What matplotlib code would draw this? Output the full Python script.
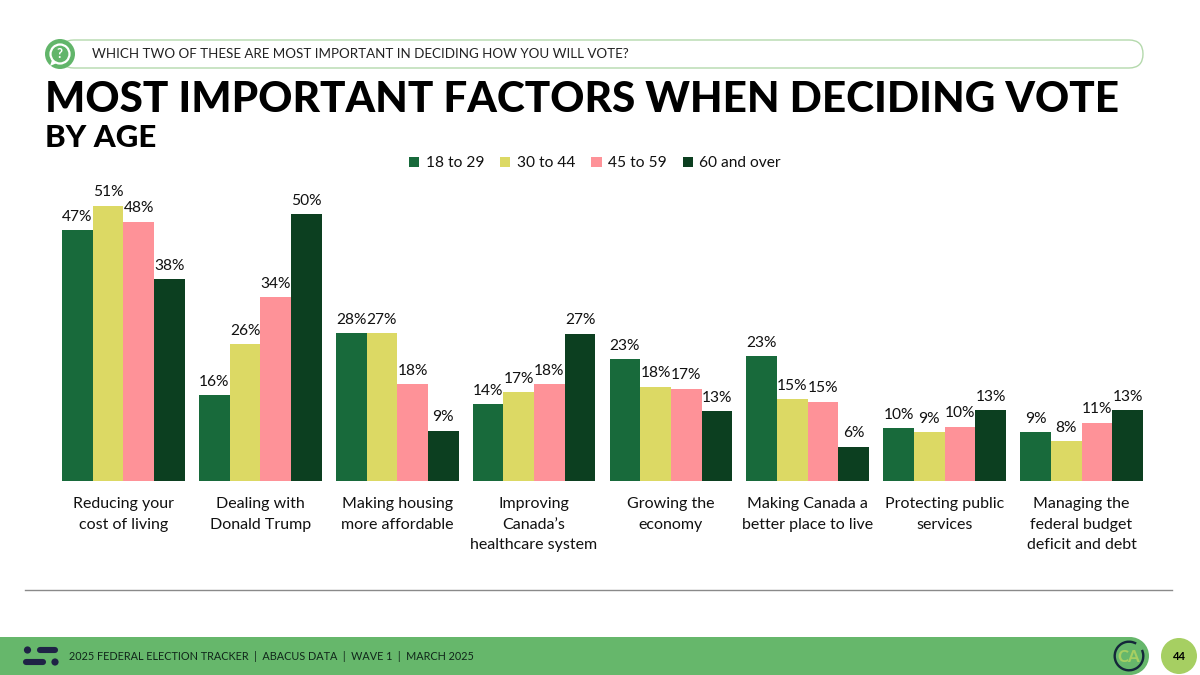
import matplotlib
matplotlib.use('Agg')
import matplotlib.pyplot as plt
from matplotlib.patches import FancyBboxPatch, Circle, Rectangle, Wedge, Polygon

plt.rcParams['font.family'] = ['Lato', 'DejaVu Sans']

categories = ['Reducing your\ncost of living', 'Dealing with\nDonald Trump',
              'Making housing\nmore affordable', 'Improving\nCanada\u2019s\nhealthcare system',
              'Growing the\neconomy', 'Making Canada a\nbetter place to live',
              'Protecting public\nservices', 'Managing the\nfederal budget\ndeficit and debt']
age_groups = ['18 to 29', '30 to 44', '45 to 59', '60 and over']

# bar heights
age_18_29 = [47.0, 16.1, 27.7, 14.4, 22.8, 23.4, 9.9, 9.2]
age_30_44 = [51.6, 25.7, 27.7, 16.6, 17.7, 15.3, 9.1, 7.5]
age_45_59 = [48.6, 34.5, 18.1, 18.2, 17.3, 14.9, 10.2, 10.9]
age_60_up = [37.8, 50.0, 9.4, 27.6, 13.1, 6.4, 13.3, 13.3]

# the percentages printed above the bars
labels_18_29 = [47, 16, 28, 14, 23, 23, 10, 9]
labels_30_44 = [51, 26, 27, 17, 18, 15, 9, 8]
labels_45_59 = [48, 34, 18, 18, 17, 15, 10, 11]
labels_60_up = [38, 50, 9, 27, 13, 6, 13, 13]

colors = ['#186a3b', '#dcd964', '#fe9298', '#0c3f20']

W, H = 1200, 675
fig = plt.figure(figsize=(12, 6.75), dpi=100)

# background layer in pixel coordinates
bg = fig.add_axes([0, 0, 1, 1])
bg.set_xlim(0, W)
bg.set_ylim(H, 0)
bg.axis('off')

# question pill
bg.add_patch(FancyBboxPatch((60, 40), 1083, 28, boxstyle='round,pad=0,rounding_size=14',
                            fc='white', ec='#b4d9ac', lw=1))
bg.add_patch(Circle((60, 54), 15, fc='#62b56a', ec='none'))
bg.add_patch(Circle((60, 54), 9.5, fc='none', ec='white', lw=1.6))
bg.add_patch(Polygon([(52, 60), (50, 66), (57, 63)], fc='white', ec='none'))
bg.text(60, 54.5, '?', color='white', fontsize=9.5, fontweight='bold', ha='center', va='center')
bg.text(92, 54.5, 'WHICH TWO OF THESE ARE MOST IMPORTANT IN DECIDING HOW YOU WILL VOTE?',
        fontsize=9.6, color='#222222', va='center')

# titles
bg.text(45, 112, 'MOST IMPORTANT FACTORS WHEN DECIDING VOTE', fontsize=30.4,
        fontweight='black', color='black', va='baseline')
bg.text(45, 147, 'BY AGE', fontsize=22.5, fontweight='black', color='black', va='baseline')

# rule above footer
bg.plot([25, 1172], [590, 590], color='#8a8a8a', lw=1)

# footer band
bg.add_patch(Rectangle((0, 637), 1130, 38, fc='#66b76b', ec='none'))
bg.add_patch(Circle((1130, 656), 19, fc='#66b76b', ec='none'))
bg.add_patch(Wedge((1129, 656), 15.5, -25, 300, width=2.4, fc='#14273a', ec='none'))
bg.text(1129, 656.5, 'CA', color='#a6cf62', fontsize=12, fontweight='black', ha='center', va='center')
bg.add_patch(Circle((1179, 656), 18, fc='#a6cf62', ec='none'))
bg.text(1179, 656, '44', color='black', fontsize=8, fontweight='bold', ha='center', va='center')

# footer logo
for x0, x1, y in [(40, 55, 650), (26, 43, 662)]:
    bg.plot([x0, x1], [y, y], color='#1f2346', lw=4.4, solid_capstyle='round')
bg.add_patch(Circle((27.5, 650), 3.6, fc='#1f2346', ec='none'))
bg.add_patch(Circle((55, 662), 3.6, fc='#1f2346', ec='none'))
bg.text(69, 656.5, '2025 FEDERAL ELECTION TRACKER  |  ABACUS DATA  |  WAVE 1  |  MARCH 2025',
        fontsize=7.82, color='#10261a', va='center')

# chart area
left, right, top, bottom = 55, 1150, 161, 481
ax = fig.add_axes([left / W, 1 - bottom / H, (right - left) / W, (bottom - top) / H])
ax.patch.set_alpha(0)

series = [age_18_29, age_30_44, age_45_59, age_60_up]
printed = [labels_18_29, labels_30_44, labels_45_59, labels_60_up]
bar_w = 0.224
for i, (vals, labs, name, c) in enumerate(zip(series, printed, age_groups, colors)):
    xs = [j + (i - 1.5) * bar_w for j in range(len(categories))]
    bars = ax.bar(xs, vals, width=bar_w, color=c, label=name)
    ax.bar_label(bars, labels=[f'{v}%' for v in labs], padding=4.6, fontsize=11.2, color='#111111')

ax.set_xlim(-0.5, 7.5)
ax.set_ylim(0, 60)
ax.set_yticks([])
ax.set_xticks(range(len(categories)))
ax.set_xticklabels(categories, fontsize=11.5, color='#111111', linespacing=1.56)
ax.tick_params(axis='x', length=0, pad=11.8)
for s in ax.spines.values():
    s.set_visible(False)

leg = ax.legend(loc='upper center', bbox_to_anchor=((595 - left) / (right - left), 1.058), ncol=4,
                frameon=False, fontsize=11.2, handlelength=0.65, handleheight=0.65,
                handletextpad=0.4, columnspacing=1.05, labelcolor='#111111')

fig.savefig('out.png', dpi=100)
